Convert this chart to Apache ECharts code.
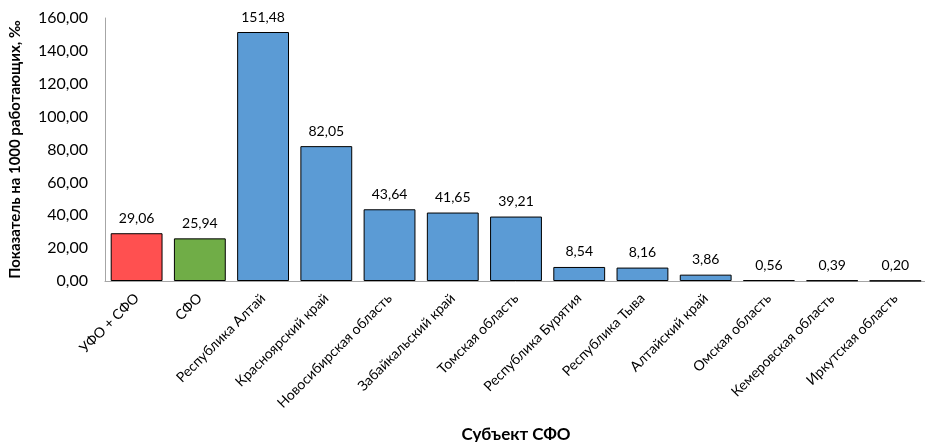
<!DOCTYPE html>
<html>
<head>
<meta charset="utf-8">
<script src="https://cdn.jsdelivr.net/npm/echarts@6/dist/echarts.min.js"></script>
<style>
  html, body { margin: 0; padding: 0; background: #fff; }
  #chart { width: 925px; height: 442px; }
</style>
</head>
<body>
<div id="chart"></div>
<script>
// Regions of the Siberian Federal District and aggregate rows
const categories = [
  'УФО + СФО', 'СФО', 'Республика Алтай', 'Красноярский край',
  'Новосибирская область', 'Забайкальский край', 'Томская область',
  'Республика Бурятия', 'Республика Тыва', 'Алтайский край',
  'Омская область', 'Кемеровская область', 'Иркутская область'
];
const values = [29.06, 25.94, 151.48, 82.05, 43.64, 41.65, 39.21, 8.54, 8.16, 3.86, 0.56, 0.39, 0.20];
const barColors = ['#FF5050', '#70AD47', '#5B9BD5', '#5B9BD5', '#5B9BD5', '#5B9BD5', '#5B9BD5',
  '#5B9BD5', '#5B9BD5', '#5B9BD5', '#5B9BD5', '#5B9BD5', '#5B9BD5'];
const yTicks = [0, 20, 40, 60, 80, 100, 120, 140, 160];

const fmt = v => v.toFixed(2).replace('.', ',');
const FONT = 'Lato, "Open Sans", sans-serif';

const chart = echarts.init(document.getElementById('chart'));
chart.setOption({
  animation: false,
  grid: { left: 105, right: -2, top: 18, bottom: 161, containLabel: false, outerBoundsMode: 'none' },
  xAxis: {
    type: 'category',
    data: categories,
    name: 'Субъект СФО',
    nameLocation: 'middle',
    nameGap: 145,
    nameTextStyle: { fontFamily: FONT, fontWeight: 'bold', fontSize: 17, color: '#000' },
    axisLine: { lineStyle: { color: '#A6A6A6', width: 1 } },
    axisTick: { show: false },
    axisLabel: { rotate: 45, interval: 0, fontFamily: FONT, fontSize: 14, color: '#000', margin: 15 }
  },
  yAxis: {
    type: 'value',
    min: yTicks[0],
    max: yTicks[yTicks.length - 1],
    interval: yTicks[1] - yTicks[0],
    name: 'Показатель на 1000 работающих, ‰',
    nameLocation: 'middle',
    nameGap: 82,
    nameTextStyle: { fontFamily: FONT, fontWeight: 'bold', fontSize: 15, color: '#000' },
    axisLine: { show: true, lineStyle: { color: '#A6A6A6', width: 1 } },
    axisTick: { show: false },
    splitLine: { show: false },
    axisLabel: { fontFamily: FONT, fontSize: 16, color: '#000', margin: 17, formatter: v => fmt(v) }
  },
  series: [{
    type: 'bar',
    barCategoryGap: '18%',
    data: values.map((v, i) => ({ value: v, itemStyle: { color: barColors[i] } })),
    itemStyle: { borderColor: '#000', borderWidth: 1 },
    label: {
      show: true, position: 'top', distance: 8,
      fontFamily: FONT, fontSize: 14, color: '#000',
      formatter: p => fmt(p.value)
    }
  }]
});
</script>
</body>
</html>
